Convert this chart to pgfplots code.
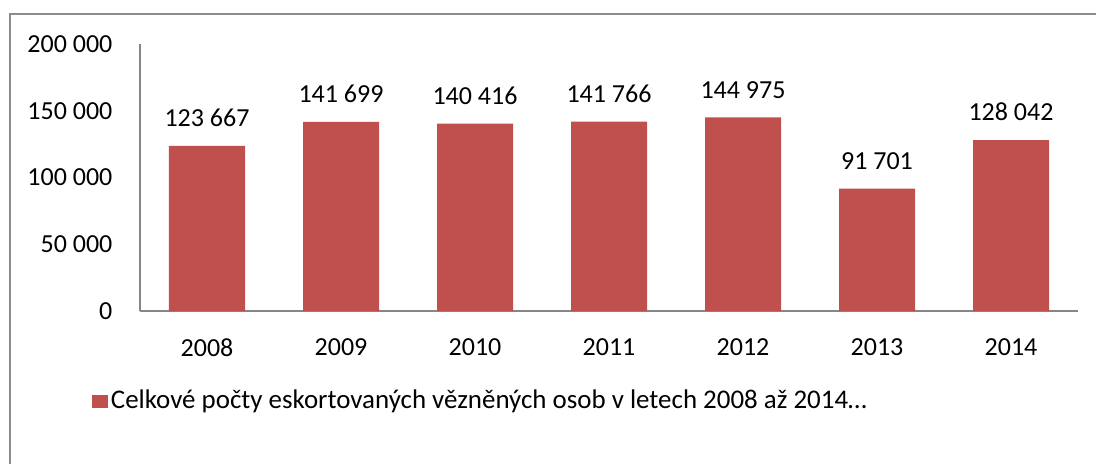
\documentclass[border=0pt]{standalone}
\usepackage{fontspec}
\setmainfont{Carlito}
\usepackage{pgfplots}
\pgfplotsset{compat=1.18}
\definecolor{barred}{HTML}{C0504D}
\definecolor{axisgray}{HTML}{868686}
\definecolor{framegray}{HTML}{8C8C8C}

\begin{document}
\fontsize{19.5}{23}\selectfont
\begin{tikzpicture}
% page = 1096 x 464 px, 1 px = 0.75pt
\path[use as bounding box] (0pt,0pt) rectangle (822pt,-348pt);
\draw[framegray, line width=1.1pt] (7.5pt,-348pt) -- (7.5pt,-10.5pt) -- (822pt,-10.5pt);
\begin{axis}[
    at={(105pt,-233.25pt)},
    anchor=south west,
    scale only axis,
    width=703.5pt,
    height=200.25pt,
    ybar,
    bar width=57pt,
    xmin=-0.5, xmax=6.5,
    ymin=0, ymax=200000,
    xtick=data,
    xticklabels={2008,2009,2010,2011,2012,2013,2014},
    ytick={0,50000,100000,150000,200000},
    yticklabels={0,50 000,100 000,150 000,200 000},
    scaled y ticks=false,
    major tick length=0pt,
    axis x line*=bottom,
    axis y line*=left,
    axis line style={axisgray, line width=1pt, -},
    yticklabel style={xshift=-14pt},
    xticklabel style={yshift=-14pt},
    point meta=explicit symbolic,
    nodes near coords,
    nodes near coords style={yshift=7.5pt, text=black},
    legend style={draw=none, fill=none, inner sep=0pt,
        font=\fontsize{20.2}{24}\selectfont,
        at={(-0.0512,-0.339)}, anchor=west,
        /tikz/every even column/.append style={column sep=0pt}},
    legend cell align=left,
    legend image code/.code={\fill[barred] (0pt,-4.9pt) rectangle (12pt,4.9pt);},
]
\addplot[fill=barred, draw=none] coordinates {
    (0,123667) [123 667]
    (1,141699) [141 699]
    (2,140416) [140 416]
    (3,141766) [141 766]
    (4,144975) [144 975]
    (5,91701)  [91 701]
    (6,128042) [128 042]
};
\legend{Celkové počty eskortovaných vězněných osob v letech 2008 až 2014…}
\end{axis}
\end{tikzpicture}
\end{document}
